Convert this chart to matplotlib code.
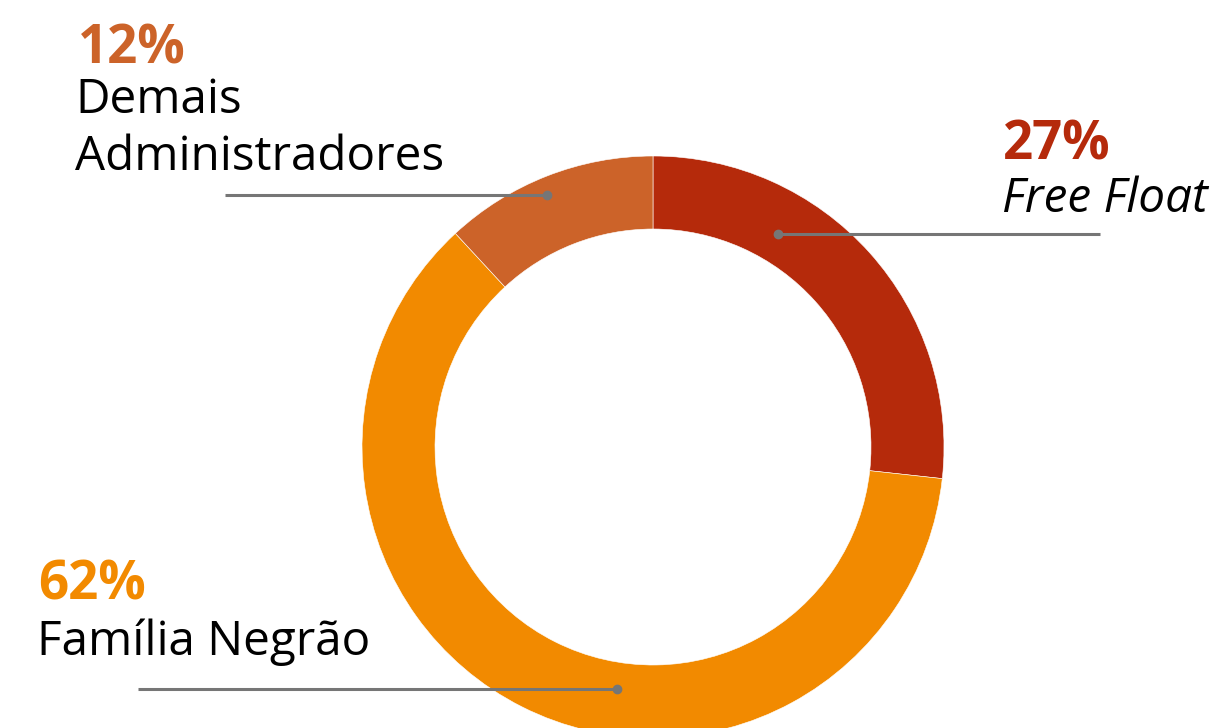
import matplotlib.pyplot as plt

# shareholder structure
labels = ["Free Float", "Família Negrão", "Demais\nAdministradores"]
shares = [27, 62, 12]
pct_text = ["27%", "62%", "12%"]
colors = ["#B52A0B", "#F28A00", "#CC6329"]

W, H = 1221, 728
plt.rcParams['font.family'] = ['Open Sans', 'DejaVu Sans']

fig = plt.figure(figsize=(W / 100, H / 100), dpi=100)
ax = fig.add_axes([0, 0, 1, 1])

def py(y):
    # image pixel row -> data y
    return H - y

cx, cy, r = 653, py(447), 291
ax.pie(shares, colors=colors, startangle=90, counterclock=False,
       center=(cx, cy), radius=r,
       wedgeprops=dict(width=73, edgecolor="white", linewidth=0.4))

ax.set_xlim(0, W)
ax.set_ylim(0, H)
ax.set_aspect("equal")
ax.axis("off")

gray = "#767676"
# leader lines: (x0, x1, y, dot at)
leaders = [(778, 1100, 234, 778), (138, 617, 689, 617), (225, 547, 195, 547)]
for x0, x1, y, xd in leaders:
    ax.plot([x0, x1], [py(y), py(y)], color=gray, lw=2.2, solid_capstyle="butt")
    ax.plot([xd], [py(y)], "o", color=gray, ms=6)

# label blocks: x, baseline of pct, label baselines
pct_size, lab_size = 38, 34.3
ax.text(1003, py(160), pct_text[0], color=colors[0], fontsize=pct_size,
        fontweight="bold", va="baseline")
ax.text(1002, py(212), labels[0], color="black", fontsize=lab_size,
        style="italic", va="baseline")

ax.text(38, py(600), pct_text[1], color=colors[1], fontsize=pct_size,
        fontweight="bold", va="baseline")
ax.text(37, py(655), labels[1], color="black", fontsize=lab_size, va="baseline")

ax.text(78, py(63), pct_text[2], color=colors[2], fontsize=pct_size,
        fontweight="bold", va="baseline")
for i, line in enumerate(labels[2].split("\n")):
    ax.text(75, py(113 + 57 * i), line, color="black", fontsize=lab_size,
            va="baseline")

fig.savefig("out.png", dpi=100)
